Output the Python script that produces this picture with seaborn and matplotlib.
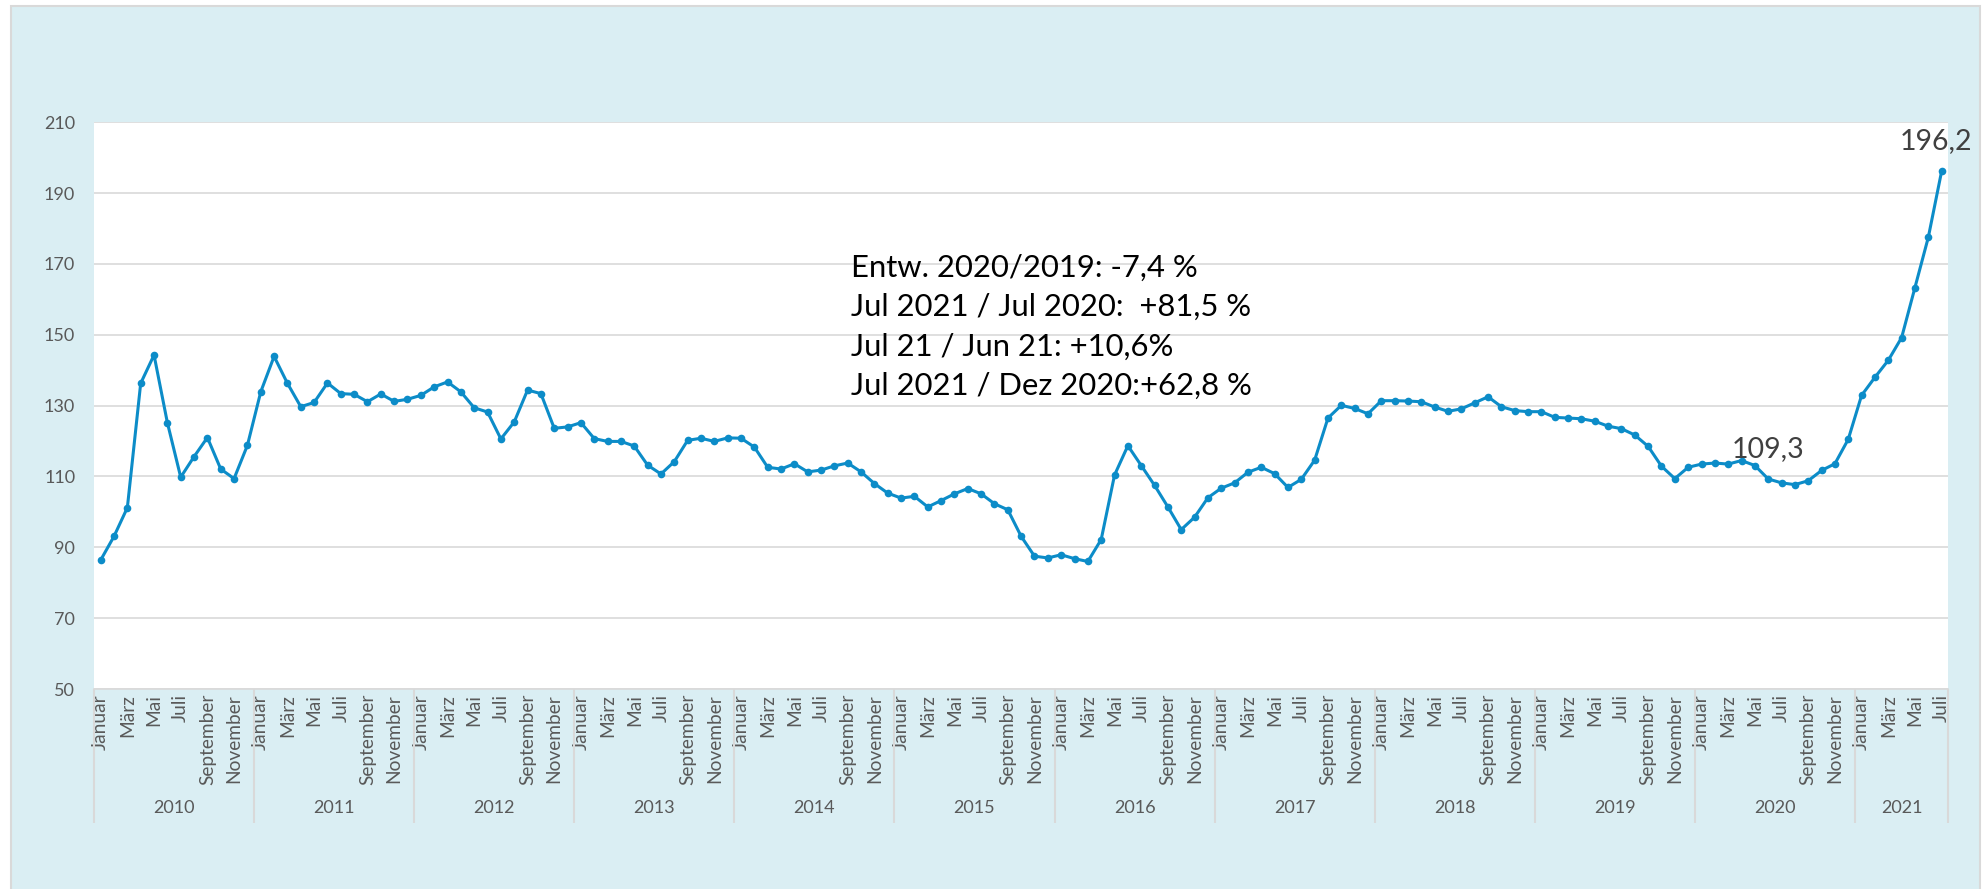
import matplotlib.pyplot as plt
from matplotlib.patches import Rectangle
import pandas as pd
import seaborn as sns

# monthly index values, Jan 2010 - Jul 2021
years = [2010, 2011, 2012, 2013, 2014, 2015, 2016, 2017, 2018, 2019, 2020, 2021]
v2010 = [86.4, 93.1, 101.2, 136.3, 144.3, 125.2, 109.8, 115.6, 121.0, 112.1, 109.4, 118.8]
v2011 = [133.9, 143.9, 136.3, 129.7, 130.9, 136.4, 133.4, 133.2, 131.1, 133.3, 131.2, 131.8]
v2012 = [132.9, 135.3, 136.7, 133.9, 129.4, 128.2, 120.6, 125.4, 134.4, 133.4, 123.6, 124.0]
v2013 = [125.2, 120.7, 119.9, 119.9, 118.6, 113.2, 110.7, 114.2, 120.2, 120.8, 119.9, 120.9]
v2014 = [120.8, 118.3, 112.6, 112.1, 113.6, 111.3, 111.8, 113.0, 113.8, 111.3, 108.0, 105.3]
v2015 = [103.9, 104.4, 101.4, 103.2, 105.1, 106.6, 105.1, 102.3, 100.6, 93.1, 87.5, 87.0]
v2016 = [87.9, 86.8, 86.0, 92.2, 110.4, 118.7, 113.1, 107.5, 101.4, 95.0, 98.5, 104.0]
v2017 = [106.7, 108.2, 111.2, 112.6, 110.8, 106.9, 109.2, 114.6, 126.5, 130.1, 129.2, 127.7]
v2018 = [131.4, 131.4, 131.3, 131.1, 129.6, 128.4, 129.1, 130.8, 132.5, 129.7, 128.6, 128.3]
v2019 = [128.3, 126.7, 126.5, 126.3, 125.6, 124.2, 123.5, 121.7, 118.5, 112.9, 109.4, 112.6]
v2020 = [113.5, 113.8, 113.5, 114.5, 113.1, 109.3, 108.2, 107.7, 108.8, 111.7, 113.6, 120.5]
v2021 = [132.9, 138.0, 142.8, 149.2, 163.3, 177.5, 196.2]
series = [v2010, v2011, v2012, v2013, v2014, v2015, v2016, v2017, v2018, v2019, v2020, v2021]

month_names = ['Januar', 'Februar', 'März', 'April', 'Mai', 'Juni', 'Juli',
               'August', 'September', 'Oktober', 'November', 'Dezember']
shown_months = ['Januar', 'März', 'Mai', 'Juli', 'September', 'November']

notes = ['Entw. 2020/2019: -7,4 %',
         'Jul 2021 / Jul 2020:  +81,5 %',
         'Jul 21 / Jun 21: +10,6%',
         'Jul 2021 / Dez 2020:+62,8 %']
# points that carry a value label: (year, month)
labeled = [(2020, 'Juni'), (2021, 'Juli')]

rows = []
for yr, vals in zip(years, series):
    for m, v in zip(month_names, vals):
        rows.append({'year': yr, 'month': m, 'value': v})
df = pd.DataFrame(rows)
df['pos'] = range(len(df))

blue = '#0C8CC8'
grey_txt = '#595959'
grid_c = '#D9D9D9'

plt.rcParams['font.family'] = ['Lato', 'DejaVu Sans']

W, H = 1986, 889
fig = plt.figure(figsize=(W / 100, H / 100), dpi=100)
fig.patch.set_facecolor('white')
fig.patches.append(Rectangle((10.5 / W, -0.02), (1980 - 10.5) / W, 1.02 - 6.5 / H,
                             transform=fig.transFigure, facecolor='#DAEEF3',
                             edgecolor=grid_c, lw=1.5, zorder=-5))

ax = fig.add_axes([94 / W, (H - 689) / H, (1948.3 - 94) / W, (689 - 122.3) / H])
ax.set_facecolor('white')

sns.lineplot(data=df, x='pos', y='value', ax=ax, color=blue, lw=2.2,
             marker='o', markersize=5.5, markeredgewidth=0)

n = len(df)
ax.set_xlim(-0.5, n - 0.5)
ax.set_ylim(50, 210)
ax.set_yticks(range(50, 211, 20))
ax.grid(axis='y', color=grid_c, lw=1.2)
ax.set_axisbelow(True)
for s in ['top', 'left', 'right']:
    ax.spines[s].set_visible(False)
ax.spines['bottom'].set_color(grid_c)
ax.spines['bottom'].set_linewidth(1.2)
ax.set_xlabel('')
ax.set_ylabel('')

tick_df = df[df['month'].isin(shown_months)]
ax.set_xticks(tick_df['pos'])
ax.set_xticklabels(tick_df['month'], rotation=90, ha='center', va='top')
ax.tick_params(axis='x', length=0, pad=3.6, labelsize=13.8, labelcolor=grey_txt)
ax.tick_params(axis='y', length=0, pad=13.5, labelsize=13, labelcolor=grey_txt)

# year groups below the month labels
xt = ax.get_xaxis_transform()
sep_len = (822.7 - 689) / (689 - 122.3)
bounds = [-0.5]
for yr in years:
    sub = df[df['year'] == yr]
    bounds.append(sub['pos'].max() + 0.5)
    ax.annotate(str(yr), xy=(sub['pos'].mean(), 0), xycoords=xt,
                xytext=(0, -119 * 0.72), textcoords='offset points',
                ha='center', va='center', fontsize=13, color=grey_txt)
ax.vlines(bounds, -sep_len, 0, transform=xt, clip_on=False, color=grid_c, lw=1.5)

# value labels
for i, (yr, m) in enumerate(labeled):
    p = df[(df['year'] == yr) & (df['month'] == m)].iloc[0]
    dx = -4.3 if i == 1 else 0
    ax.annotate(f"{p['value']:.1f}".replace('.', ','), xy=(p['pos'], p['value']),
                xytext=(dx, 15.8), textcoords='offset points', ha='center',
                va='baseline', fontsize=20.5, color='#404040', annotation_clip=False)

# text box
for k, line in enumerate(notes):
    fig.text(851 / W, 1 - (276.7 + 39.3 * k) / H, line, ha='left', va='baseline',
             fontsize=22.3, color='black')

fig.savefig('out.png', dpi=100)
